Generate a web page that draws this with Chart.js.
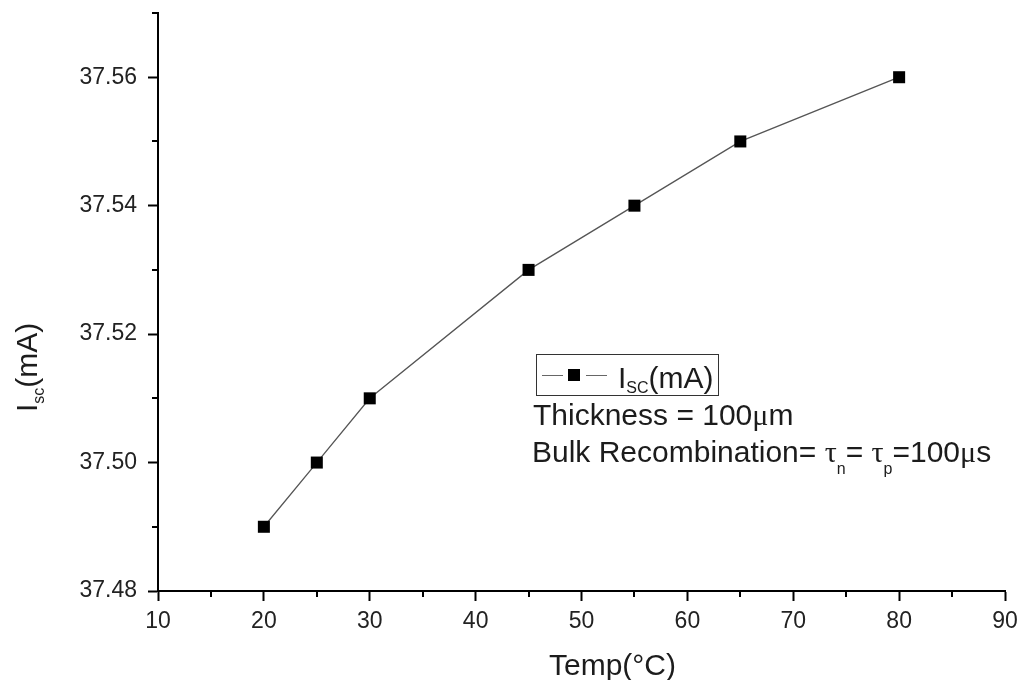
<!DOCTYPE html>
<html>
<head>
<meta charset="utf-8">
<script src="https://cdn.jsdelivr.net/npm/chart.js@4.4.1/dist/chart.umd.min.js"></script>
<style>
  html, body { margin: 0; padding: 0; background: #fff; }
  #wrap { position: relative; width: 1024px; height: 680px; font-family: "Liberation Sans", Arial, sans-serif; color: #1c1c1c; }
  #wrap canvas { position: absolute; left: 0; top: 0; }
  .txt { position: absolute; white-space: nowrap; font-size: 30px; line-height: 30px; }
  .sub { position: relative; font-size: 16px; }
  .greek { font-family: "Liberation Serif", serif; }
  #legendBox { position: absolute; left: 536px; top: 354px; width: 183px; height: 42px; box-sizing: border-box; border: 1px solid #333; }
  .dash { position: absolute; height: 1px; background: #666; top: 375px; width: 21px; }
  #legendMark { position: absolute; left: 568px; top: 369px; width: 12px; height: 12px; background: #000; }
</style>
</head>
<body>
<div id="wrap">
  <canvas id="chart" width="1024" height="680"></canvas>
  <div id="legendBox"></div>
  <div class="dash" style="left:542px"></div>
  <div id="legendMark"></div>
  <div class="dash" style="left:586px"></div>
  <div class="txt" style="left:618px; top:363px">I<span class="sub" style="top:5px">SC</span>(mA)</div>
  <div class="txt" style="left:533px; top:400px">Thickness = 100<span class="greek">μ</span>m</div>
  <div class="txt" style="left:532px; top:437px">Bulk Recombination= <span class="greek">τ</span><span class="sub" style="top:12px">n</span>= <span class="greek">τ</span><span class="sub" style="top:12px">p</span>=100<span class="greek">μ</span>s</div>
  <div class="txt" style="left:549px; top:650px">Temp(°C)</div>
  <div class="txt" style="left:12px; top:412px; transform-origin:0 0; transform:rotate(-90deg)">I<span class="sub" style="top:7px">sc</span>(mA)</div>
</div>
<script>
var temps = [20, 25, 30, 45, 55, 65, 80];
var isc = [37.49, 37.50, 37.51, 37.53, 37.54, 37.55, 37.56];

var xTicks = [10, 20, 30, 40, 50, 60, 70, 80, 90];
var xMinor = [15, 25, 35, 45, 55, 65, 75, 85];
var yTicks = [37.48, 37.50, 37.52, 37.54, 37.56];
var yMinor = [37.49, 37.51, 37.53, 37.55, 37.57];

var FONT = "'Liberation Sans', Arial, sans-serif";

// short ticks halfway between the labelled ones
var minorTicks = {
  id: 'minorTicks',
  afterDraw: function(chart) {
    var ctx = chart.ctx;
    var xs = chart.scales.x;
    var ys = chart.scales.y;
    var area = chart.chartArea;
    ctx.save();
    ctx.strokeStyle = '#000';
    ctx.lineWidth = 2;
    ctx.beginPath();
    xMinor.forEach(function(v) {
      var px = Math.round(xs.getPixelForValue(v));
      ctx.moveTo(px, area.bottom);
      ctx.lineTo(px, area.bottom + 6);
    });
    yMinor.forEach(function(v) {
      var py = Math.round(ys.getPixelForValue(v));
      ctx.moveTo(area.left, py);
      ctx.lineTo(area.left - 6, py);
    });
    ctx.stroke();
    ctx.restore();
  }
};

var points = temps.map(function(t, i) { return { x: t, y: isc[i] }; });

new Chart(document.getElementById('chart').getContext('2d'), {
  type: 'scatter',
  data: {
    datasets: [{
      label: 'Isc(mA)',
      data: points,
      showLine: true,
      borderColor: '#555',
      borderWidth: 1.3,
      pointStyle: 'rect',
      pointRadius: 8.5,
      pointBackgroundColor: '#000',
      pointBorderColor: '#000',
      pointBorderWidth: 0,
      tension: 0
    }]
  },
  options: {
    responsive: false,
    animation: false,
    layout: { padding: { left: 0, right: 19, top: 13, bottom: 0 } },
    plugins: { legend: { display: false }, tooltip: { enabled: false } },
    scales: {
      x: {
        type: 'linear',
        min: 10,
        max: 90,
        afterBuildTicks: function(s) { s.ticks = xTicks.map(function(v) { return { value: v }; }); },
        afterFit: function(s) { s.height = 89; s.paddingLeft = 0; s.paddingRight = 0; },
        ticks: {
          autoSkip: false,
          maxRotation: 0,
          padding: 7,
          color: '#222',
          font: { family: FONT, size: 23 },
          callback: function(v) { return v; }
        },
        grid: { drawOnChartArea: false, tickLength: 10, tickWidth: 2, tickColor: '#000' },
        border: { display: true, color: '#000', width: 2 }
      },
      y: {
        type: 'linear',
        min: 37.48,
        max: 37.57,
        afterBuildTicks: function(s) { s.ticks = yTicks.map(function(v) { return { value: v }; }); },
        afterFit: function(s) { s.width = 158; s.paddingTop = 0; s.paddingBottom = 0; },
        ticks: {
          autoSkip: false,
          padding: 11,
          color: '#222',
          font: { family: FONT, size: 23 },
          callback: function(v) { return v.toFixed(2); }
        },
        grid: { drawOnChartArea: false, tickLength: 10, tickWidth: 2, tickColor: '#000' },
        border: { display: true, color: '#000', width: 2 }
      }
    }
  },
  plugins: [minorTicks]
});
</script>
</body>
</html>
